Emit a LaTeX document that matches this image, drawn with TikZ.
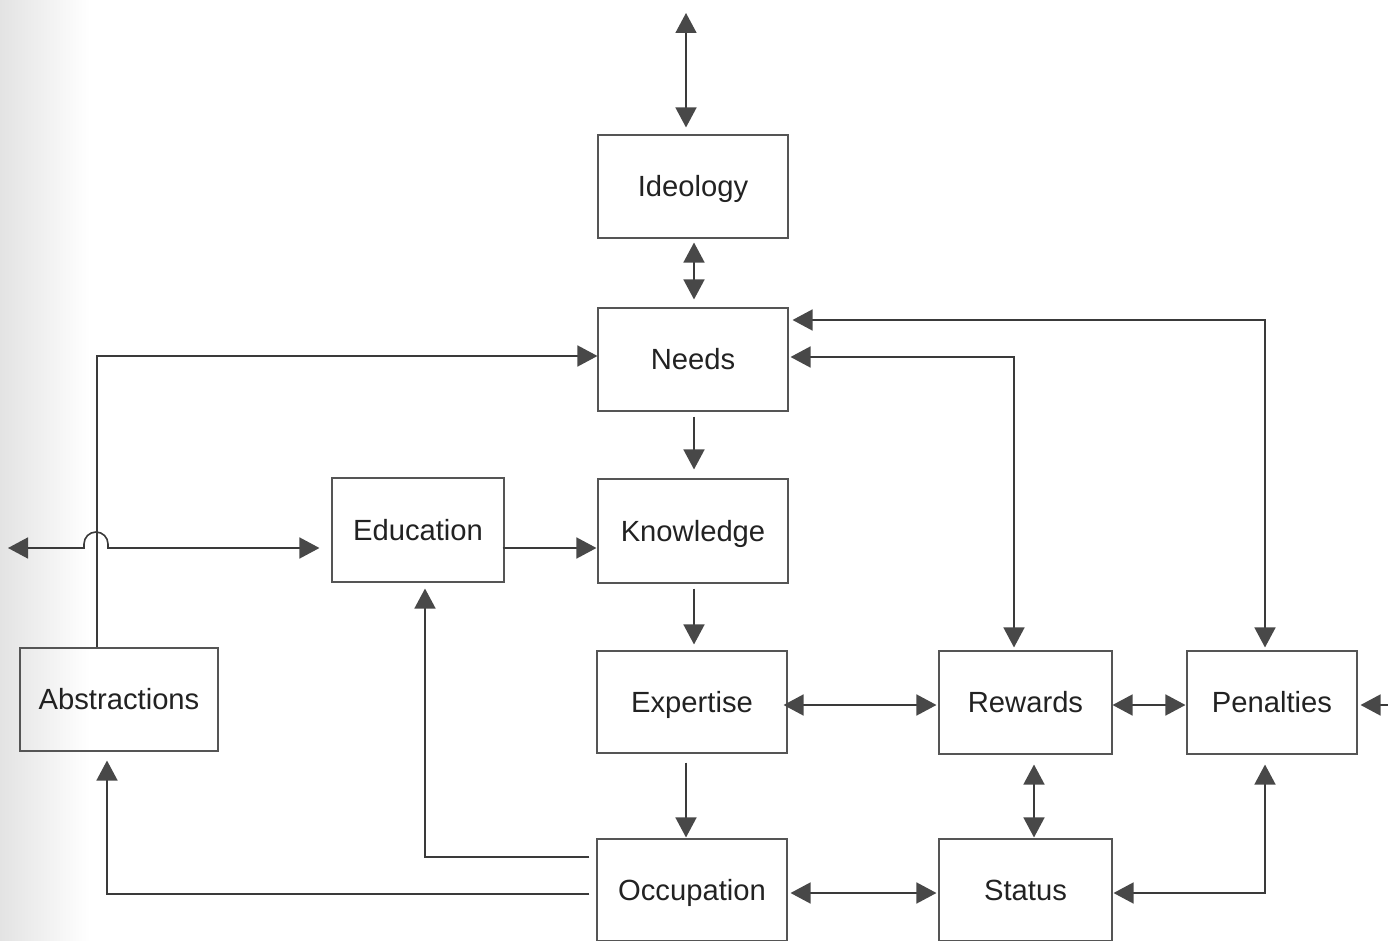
\documentclass[tikz,border=0pt]{standalone}
\usepackage{fontspec}
\setmainfont{Liberation Sans}
\usetikzlibrary{arrows.meta,calc}
\definecolor{lc}{HTML}{3A3A3A}
\definecolor{hc}{HTML}{484848}
\definecolor{bc}{HTML}{555555}
\definecolor{tc}{HTML}{222222}
\tikzset{
  box/.style={draw=bc, line width=0.55pt, inner sep=0pt, text=tc,
    text height=10.4pt, text depth=0pt,
    font=\fontsize{14.6}{17}\selectfont},
  tip/.tip={Triangle[length=10pt,width=10.5pt,fill=hc,color=hc]},
  conn/.style={draw=lc, line width=0.8pt},
  arr/.style={conn,-tip},
  dbl/.style={conn,tip-tip},
}
\begin{document}
\begin{tikzpicture}[x=0.5pt,y=-0.5pt]
\useasboundingbox (0,0) rectangle (1388,941);
\shade[left color=gray!22, right color=white] (0,0) rectangle (90,941);

\node[box, minimum width=95pt, minimum height=51.5pt] (ideology) at (693,186.5) {Ideology};
\node[box, minimum width=95pt, minimum height=51.5pt] (needs) at (693,359.5) {Needs};
\node[box, minimum width=86pt, minimum height=52pt] (education) at (418,530) {Education};
\node[box, minimum width=95pt, minimum height=52pt] (knowledge) at (693,531) {Knowledge};
\node[box, minimum width=99pt, minimum height=51.5pt] (abstr) at (119,699.5) {Abstractions};
\node[box, minimum width=95pt, minimum height=51pt] (expertise) at (692,702) {Expertise};
\node[box, minimum width=86.5pt, minimum height=51.5pt] (rewards) at (1025.5,702.5) {Rewards};
\node[box, minimum width=85pt, minimum height=51.5pt] (penalties) at (1272,702.5) {Penalties};
\node[box, minimum width=95pt, minimum height=51pt] (occupation) at (692,890) {Occupation};
\node[box, minimum width=86.5pt, minimum height=51pt] (status) at (1025.5,890) {Status};

\coordinate (top) at (686,13);
\coordinate (rin) at (1388,705);
\coordinate (lft) at (8,548);

% vertical spine
\draw[dbl, shorten >=3.5pt] (top) -- (top |- ideology.north);
\draw[dbl, shorten <=2pt, shorten >=4pt] ($(ideology.south)+(1,0)$) -- ($(needs.north)+(1,0)$);
\draw[arr, shorten <=2.5pt, shorten >=4.5pt] ($(needs.south)+(1,0)$) -- ($(knowledge.north)+(1,0)$);
\draw[arr, shorten <=2.5pt, shorten >=3pt] ($(knowledge.south)+(1,0)$) -- ($(expertise.north)+(2,0)$);
\draw[arr, shorten <=4.5pt, shorten >=0.5pt] ($(expertise.south)+(-6,0)$) -- ($(occupation.north)+(-6,0)$);

% horizontal row connectors
\draw[dbl, shorten <=-2pt, shorten >=1pt] ($(expertise.east)+(0,3)$) -- ($(rewards.west)+(0,2.5)$);
\draw[dbl, shorten >=0.5pt] ($(rewards.east)+(0,2.5)$) -- ($(penalties.west)+(0,2.5)$);
\draw[arr, shorten >=1.5pt] (rin) -- ($(penalties.east)+(0,2.5)$);
\draw[dbl, shorten <=5pt, shorten >=0.5pt] ($(rewards.south)+(8.5,0)$) -- ($(status.north)+(8.5,0)$);
\draw[dbl, shorten <=1.5pt, shorten >=1pt] ($(occupation.east)+(0,3)$) -- ($(status.west)+(0,3)$);
\draw[dbl, shorten <=5pt, shorten >=0.5pt] ($(penalties.south)+(-7,0)$) |- ($(status.east)+(0,3)$);

% feedback to needs
\draw[dbl, shorten <=1pt, shorten >=1.5pt] ($(needs.east)+(0,-2.5)$) -| ($(rewards.north)+(-11.5,0)$);
\draw[dbl, shorten <=2pt, shorten >=1.5pt] ($(needs.east)+(0,-39.5)$) -| ($(penalties.north)+(-7,0)$);
\draw[arr] ($(abstr.north)+(-22,0)$) |- ($(needs.west)+(0,-3.5)$);

% left line with jump
\draw[dbl, shorten >=6pt] (lft) -- (84,548) -- (84,544) arc[start angle=180, end angle=0, radius=6pt] -- (108,548) -- ($(education.west)+(0,18)$);
\draw[arr, shorten <=-1pt, shorten >=0.5pt] ($(education.east)+(0,18)$) -- ($(knowledge.west)+(0,17)$);

% feedback from occupation
\draw[arr, shorten <=3.5pt, shorten >=3pt] ($(occupation.west)+(0,-33)$) -| ($(education.south)+(7,0)$);
\draw[arr, shorten <=3.5pt, shorten >=4.5pt] ($(occupation.west)+(0,4)$) -| ($(abstr.south)+(-12,0)$);
\end{tikzpicture}
\end{document}
